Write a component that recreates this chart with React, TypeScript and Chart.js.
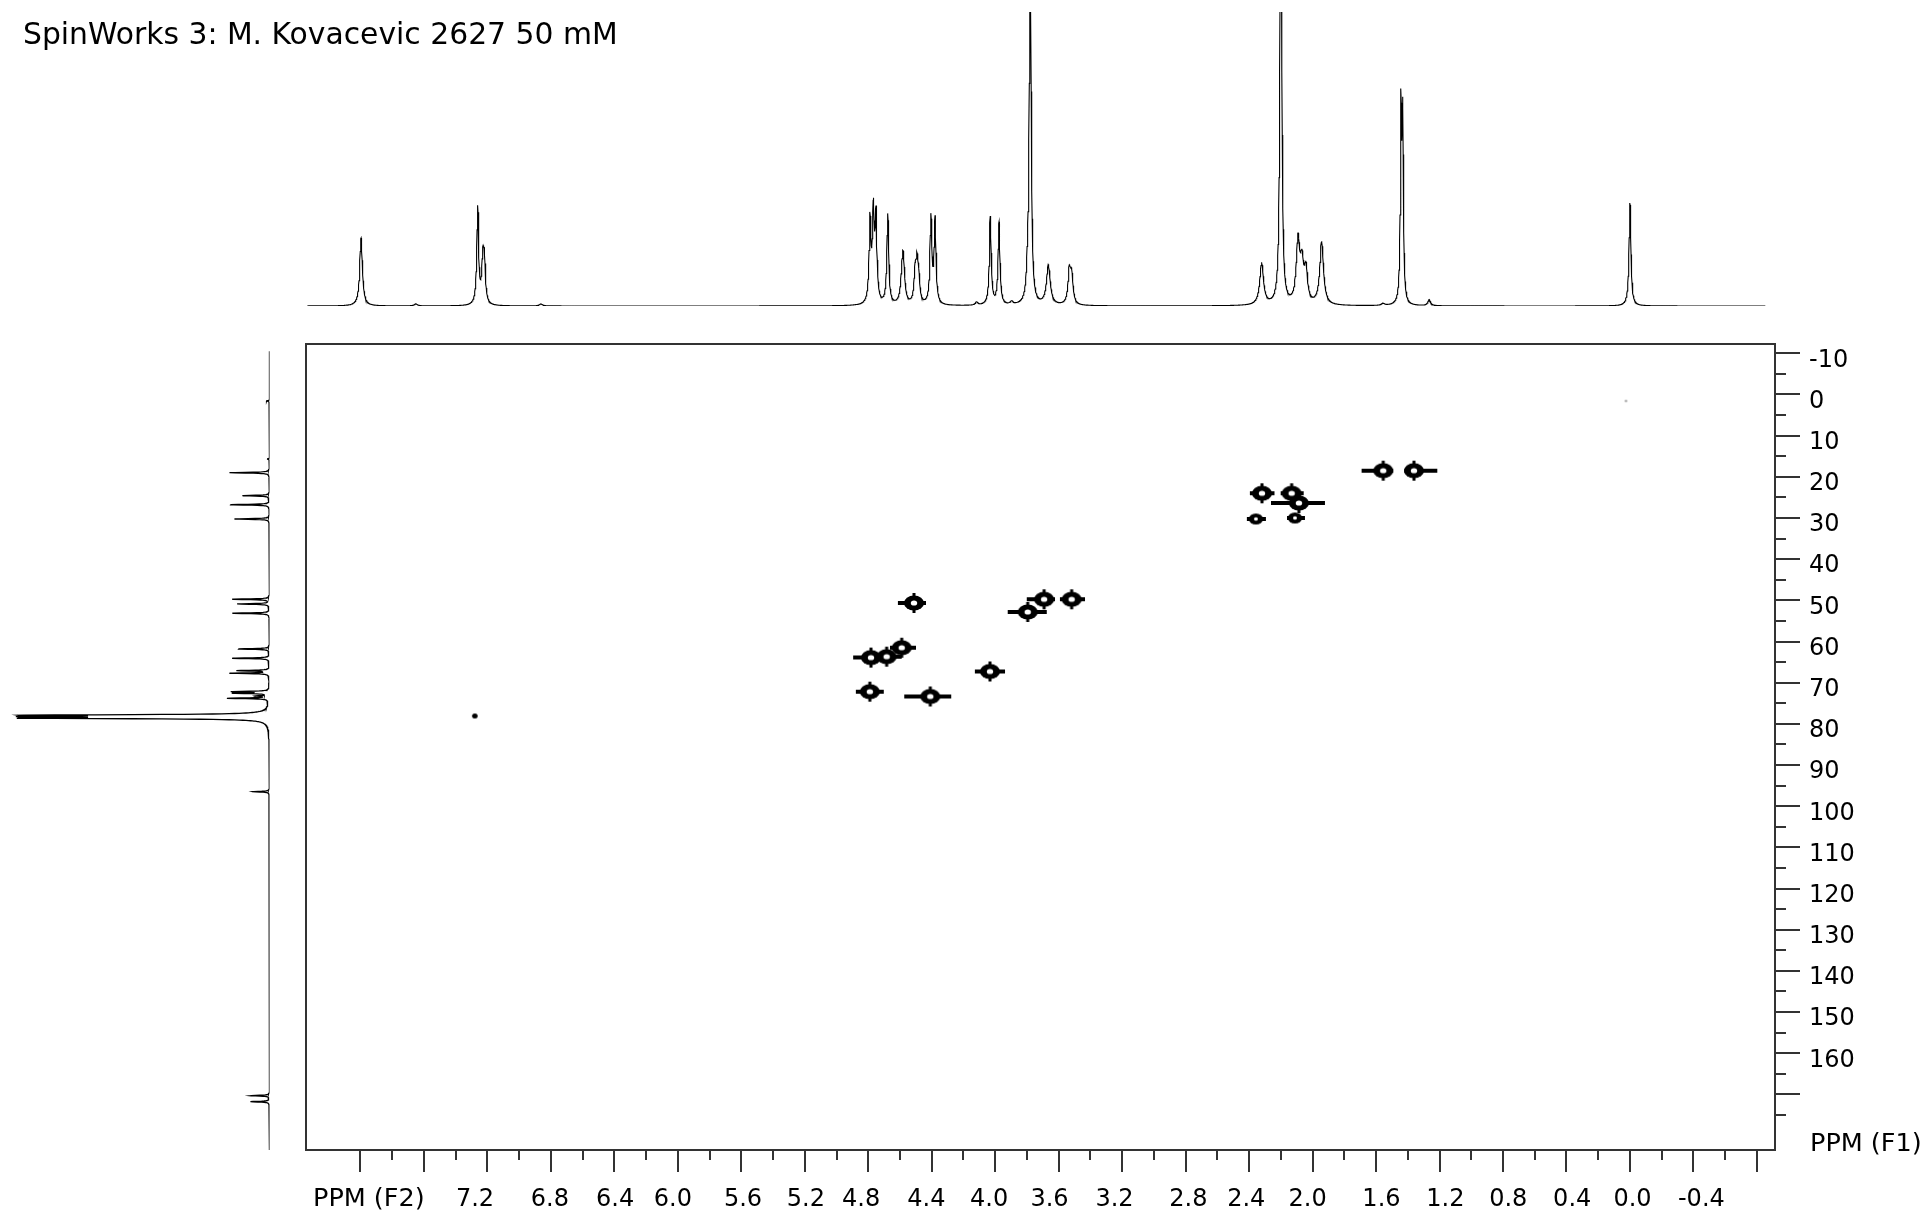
import React, { useEffect, useRef } from 'react';
import { Chart, registerables } from 'chart.js';

Chart.register(...registerables);

const PAGE_W = 1929;
const PAGE_H = 1215;

const TITLE = 'SpinWorks 3: M. Kovacevic 2627 50 mM';
const F2_TITLE = 'PPM (F2)';
const F1_TITLE = 'PPM (F1)';

// axis ranges (ppm)
const F2_LEFT = 8.343;
const F2_RIGHT = -0.914;
const F1_TOP = -12.26;
const F1_BOTTOM = 183.5;

// tick values and labels
const f2MajorTicks = [8.0, 7.6, 7.2, 6.8, 6.4, 6.0, 5.6, 5.2, 4.8, 4.4, 4.0, 3.6, 3.2, 2.8, 2.4, 2.0, 1.6, 1.2, 0.8, 0.4, 0.0, -0.4, -0.8];
const f2MinorTicks = [7.8, 7.4, 7.0, 6.6, 6.2, 5.8, 5.4, 5.0, 4.6, 4.2, 3.8, 3.4, 3.0, 2.6, 2.2, 1.8, 1.4, 1.0, 0.6, 0.2, -0.2, -0.6];
const f2Labels = ['7.2', '6.8', '6.4', '6.0', '5.6', '5.2', '4.8', '4.4', '4.0', '3.6', '3.2', '2.8', '2.4', '2.0', '1.6', '1.2', '0.8', '0.4', '0.0', '-0.4'];
// where each label's centre sits along F2 (ppm)
const f2LabelAt = [7.278, 6.806, 6.395, 6.031, 5.589, 5.193, 4.845, 4.434, 4.038, 3.658, 3.248, 2.783, 2.418, 2.031, 1.566, 1.163, 0.767, 0.364, -0.016, -0.450];
const f1MajorTicks = [-10, 0, 10, 20, 30, 40, 50, 60, 70, 80, 90, 100, 110, 120, 130, 140, 150, 160, 170];
const f1MajorLabels = ['-10', '0', '10', '20', '30', '40', '50', '60', '70', '80', '90', '100', '110', '120', '130', '140', '150', '160', ''];
const f1MinorTicks = [-5, 5, 15, 25, 35, 45, 55, 65, 75, 85, 95, 105, 115, 125, 135, 145, 155, 165, 175];

// 1H projection (top): peak positions (ppm), heights, half widths (ppm)
const hPeakPpm = [7.996, 7.650, 7.261, 7.229, 7.219, 6.862, 4.789, 4.768, 4.751, 4.677, 4.588, 4.579, 4.505, 4.493, 4.482, 4.405, 4.379, 4.117, 4.031, 3.976, 3.896, 3.795, 3.779, 3.665, 3.533, 3.518, 2.321, 2.204, 2.199, 2.092, 2.067, 2.042, 1.943, 1.556, 1.443, 1.432, 1.265, 0.000];
const hPeakHeight = [68, 2, 97, 40, 38, 2, 82, 87, 84, 90, 20, 42, 28, 36, 22, 86, 84, 3, 88, 82, 3, 30, 420, 40, 32, 27, 42, 100, 420, 62, 36, 32, 63, 2, 187, 177, 6, 103];
const hPeakWidth = [0.010, 0.012, 0.007, 0.008, 0.008, 0.012, 0.007, 0.007, 0.007, 0.007, 0.010, 0.010, 0.008, 0.008, 0.008, 0.007, 0.007, 0.010, 0.007, 0.007, 0.010, 0.008, 0.006, 0.014, 0.010, 0.010, 0.014, 0.006, 0.006, 0.013, 0.012, 0.012, 0.014, 0.012, 0.005, 0.005, 0.010, 0.007];

// 13C projection (left)
const cPeakPpm = [1.58, 15.67, 19.0, 24.58, 26.77, 30.24, 49.74, 50.88, 53.14, 61.81, 64.07, 67.08, 67.71, 72.18, 72.57, 73.23, 73.79, 77.9, 78.26, 78.62, 96.47, 170.3, 171.76];
const cPeakHeight = [3, 2, 40, 27, 39, 35, 37, 32, 37, 31, 37, 32, 39, 36, 34, 12, 41, 215, 190, 215, 17, 19, 19];
const cPeakWidth = [0.1, 0.1, 0.1, 0.1, 0.1, 0.1, 0.1, 0.1, 0.1, 0.1, 0.1, 0.1, 0.1, 0.1, 0.1, 0.1, 0.1, 0.15, 0.15, 0.15, 0.1, 0.1, 0.1];

// HSQC cross peaks
const xpF2 = [7.279, 4.790, 4.409, 4.783, 4.684, 4.589, 4.512, 4.033, 3.795, 3.692, 3.518, 2.319, 2.132, 2.086, 2.357, 2.111, 1.555, 1.361, 0.025];
const xpF1 = [78.09, 72.18, 73.35, 63.90, 63.68, 61.50, 50.64, 67.28, 52.83, 49.74, 49.74, 24.00, 24.00, 26.36, 30.24, 30.00, 18.50, 18.50, 1.58];
const xpLevel = [1, 3, 3, 3, 3, 3, 3, 3, 3, 3, 3, 3, 3, 3, 2, 2, 3, 3, 0];
// extent of the t1 ridge on the high-ppm side and on the low-ppm side (ppm)
const xpRidgeHigh = [0, 0.088, 0.164, 0.112, 0.049, 0.074, 0.101, 0.095, 0.126, 0.109, 0.074, 0.076, 0.069, 0.176, 0.057, 0.050, 0.136, 0.061, 0];
const xpRidgeLow = [0, 0.088, 0.132, 0.046, 0.095, 0.090, 0.076, 0.095, 0.120, 0.069, 0.084, 0.079, 0.076, 0.164, 0.063, 0.063, 0.063, 0.147, 0];

// layout (page pixels)
const BOX_LEFT = 306;
const BOX_RIGHT = 1775;
const BOX_TOP = 344;
const BOX_BOTTOM = 1150;
const TOP_SPEC_TOP = 12;
const TOP_SPEC_BASE = 306;
const LEFT_SPEC_BASE = 269.5;

const FONT = '"DejaVu Sans", Verdana, sans-serif';
const FRAME_COLOR = '#333333';

function lorentz(v: number, pos: number[], h: number[], w: number[]) {
  let s = 0;
  for (let i = 0; i < pos.length; i++) {
    const d = v - pos[i];
    s += (h[i] * w[i] * w[i]) / (d * d + w[i] * w[i]);
  }
  return s;
}

function traceGrid(from: number, to: number, step: number, pos: number[]) {
  const g: number[] = [];
  const n = Math.round((from - to) / step);
  for (let k = 0; k <= n; k++) g.push(from - k * step);
  pos.forEach((p) => {
    if (p <= from && p >= to) g.push(p);
  });
  g.sort((a, b) => b - a);
  return g;
}

function makeBlob(rx: number, ry: number, hx: number, hy: number, color: string, nub: number) {
  const c = document.createElement('canvas');
  const w = Math.ceil(rx * 2 + 4);
  const h = Math.ceil(Math.max(ry, nub) * 2 + 4);
  c.width = w;
  c.height = h;
  const g = c.getContext('2d')!;
  g.fillStyle = color;
  g.beginPath();
  g.ellipse(w / 2, h / 2, rx, ry, 0, 0, Math.PI * 2);
  g.fill();
  if (nub > 0) {
    g.fillRect(w / 2 - 1.5, h / 2 - nub, 3, nub * 2);
  }
  if (hx > 0) {
    g.fillStyle = '#ffffff';
    g.beginPath();
    g.ellipse(w / 2, h / 2, hx, hy, 0, 0, Math.PI * 2);
    g.fill();
  }
  return c;
}

export default function App() {
  const topRef = useRef<HTMLCanvasElement>(null);
  const leftRef = useRef<HTMLCanvasElement>(null);
  const mainRef = useRef<HTMLCanvasElement>(null);

  useEffect(() => {
    const charts: Chart[] = [];
    const common: any = {
      responsive: false,
      maintainAspectRatio: false,
      animation: false,
      devicePixelRatio: 1,
      events: [],
      plugins: { legend: { display: false }, tooltip: { enabled: false }, title: { display: false } },
    };

    // ---- top 1H projection ----
    const hGrid = traceGrid(8.333, -0.853, 0.002, hPeakPpm);
    const hData = hGrid.map((v) => ({ x: v, y: lorentz(v, hPeakPpm, hPeakHeight, hPeakWidth) }));
    const titlePlugin = {
      id: 'titleText',
      afterDraw(chart: any) {
        const ctx = chart.ctx;
        ctx.save();
        ctx.fillStyle = '#000';
        ctx.font = `29.8px ${FONT}`;
        ctx.textAlign = 'left';
        ctx.textBaseline = 'alphabetic';
        ctx.fillText(TITLE, 23, 44);
        ctx.restore();
      },
    };
    charts.push(
      new Chart(topRef.current!, {
        type: 'scatter',
        data: {
          datasets: [
            {
              data: hData,
              showLine: true,
              pointRadius: 0,
              borderColor: '#000',
              borderWidth: 1.1,
              tension: 0,
            },
          ],
        },
        options: {
          ...common,
          layout: { padding: { left: BOX_LEFT, right: PAGE_W - BOX_RIGHT, top: TOP_SPEC_TOP, bottom: PAGE_H - TOP_SPEC_BASE } },
          scales: {
            x: { type: 'linear', display: false, reverse: true, min: F2_RIGHT, max: F2_LEFT },
            y: { type: 'linear', display: false, min: 0, max: TOP_SPEC_BASE - TOP_SPEC_TOP },
          },
        },
        plugins: [titlePlugin],
      } as any)
    );

    // ---- left 13C projection ----
    const cGrid = traceGrid(183.8, -10.5, 0.04, cPeakPpm);
    const cData = cGrid
      .map((v) => ({ x: lorentz(v, cPeakPpm, cPeakHeight, cPeakWidth), y: v }))
      .reverse();
    charts.push(
      new Chart(leftRef.current!, {
        type: 'scatter',
        data: {
          datasets: [
            {
              data: cData,
              showLine: true,
              pointRadius: 0,
              borderColor: '#000',
              borderWidth: 1.3,
              tension: 0,
            },
          ],
        },
        options: {
          ...common,
          layout: { padding: { left: 0, right: PAGE_W - LEFT_SPEC_BASE, top: BOX_TOP, bottom: PAGE_H - BOX_BOTTOM } },
          scales: {
            x: { type: 'linear', display: false, reverse: true, min: 0, max: LEFT_SPEC_BASE },
            y: { type: 'linear', display: false, reverse: true, min: F1_TOP, max: F1_BOTTOM },
          },
        },
      } as any)
    );

    // ---- main HSQC map ----
    const blobs = [
      makeBlob(1.3, 1.1, 0, 0, '#8a8a8a', 0),
      makeBlob(2.8, 2.5, 0, 0, '#000', 0),
      makeBlob(7, 5.5, 2, 1.7, '#000', 0),
      makeBlob(10, 7.5, 3.2, 2.6, '#000', 10),
    ];
    const coreData = xpF2.map((x, i) => ({ x, y: xpF1[i] }));
    const ridgeData: any[] = [];
    xpF2.forEach((x, i) => {
      if (xpRidgeHigh[i] + xpRidgeLow[i] > 0) {
        ridgeData.push({ x: x + xpRidgeHigh[i], y: xpF1[i] });
        ridgeData.push({ x: x - xpRidgeLow[i], y: xpF1[i] });
        ridgeData.push({ x, y: null });
      }
    });

    const axesPlugin = {
      id: 'nmrAxes',
      afterDraw(chart: any) {
        const { ctx, chartArea: a } = chart;
        const sx = chart.scales.x;
        const sy = chart.scales.y;
        ctx.save();
        ctx.strokeStyle = FRAME_COLOR;
        ctx.lineWidth = 2;
        ctx.strokeRect(a.left, a.top, a.right - a.left, a.bottom - a.top);
        ctx.beginPath();
        f2MajorTicks.forEach((v) => {
          const p = Math.round(sx.getPixelForValue(v));
          ctx.moveTo(p, a.bottom);
          ctx.lineTo(p, a.bottom + 22);
        });
        f2MinorTicks.forEach((v) => {
          const p = Math.round(sx.getPixelForValue(v));
          ctx.moveTo(p, a.bottom);
          ctx.lineTo(p, a.bottom + 10);
        });
        f1MajorTicks.forEach((v) => {
          const p = Math.round(sy.getPixelForValue(v));
          ctx.moveTo(a.right, p);
          ctx.lineTo(a.right + 25, p);
        });
        f1MinorTicks.forEach((v) => {
          const p = Math.round(sy.getPixelForValue(v));
          ctx.moveTo(a.right, p);
          ctx.lineTo(a.right + 11, p);
        });
        ctx.stroke();

        ctx.fillStyle = '#000';
        ctx.font = `24px ${FONT}`;
        ctx.textBaseline = 'alphabetic';
        ctx.textAlign = 'center';
        f2Labels.forEach((t, i) => {
          ctx.fillText(t, sx.getPixelForValue(f2LabelAt[i]), a.bottom + 56);
        });
        ctx.textAlign = 'left';
        f1MajorTicks.forEach((v, i) => {
          const t = f1MajorLabels[i];
          if (t) ctx.fillText(t, a.right + 34, sy.getPixelForValue(v) + 13.3);
        });
        ctx.font = `25.5px ${FONT}`;
        ctx.fillText(F2_TITLE, a.left + 7, a.bottom + 56);
        ctx.fillText(F1_TITLE, a.right + 35, a.bottom + 1);
        ctx.restore();
      },
    };

    charts.push(
      new Chart(mainRef.current!, {
        type: 'scatter',
        data: {
          datasets: [
            {
              data: coreData,
              pointStyle: xpLevel.map((l) => blobs[l]),
              pointRadius: 6,
              showLine: false,
            },
            {
              data: ridgeData,
              showLine: true,
              spanGaps: false,
              pointRadius: 0,
              borderColor: '#000',
              borderWidth: 4,
            },
          ],
        },
        options: {
          ...common,
          layout: { padding: { left: BOX_LEFT, right: PAGE_W - BOX_RIGHT, top: BOX_TOP, bottom: PAGE_H - BOX_BOTTOM } },
          scales: {
            x: { type: 'linear', display: false, reverse: true, min: F2_RIGHT, max: F2_LEFT },
            y: { type: 'linear', display: false, reverse: true, min: F1_TOP, max: F1_BOTTOM },
          },
        },
        plugins: [axesPlugin],
      } as any)
    );

    return () => charts.forEach((c) => c.destroy());
  }, []);

  const cv: React.CSSProperties = { position: 'absolute', left: 0, top: 0, width: PAGE_W, height: PAGE_H, display: 'block' };
  return (
    <div style={{ position: 'absolute', left: 0, top: 0, width: PAGE_W, height: PAGE_H, background: '#fff', overflow: 'hidden' }}>
      <canvas ref={topRef} width={PAGE_W} height={PAGE_H} style={cv} />
      <canvas ref={leftRef} width={PAGE_W} height={PAGE_H} style={cv} />
      <canvas ref={mainRef} width={PAGE_W} height={PAGE_H} style={cv} />
    </div>
  );
}
